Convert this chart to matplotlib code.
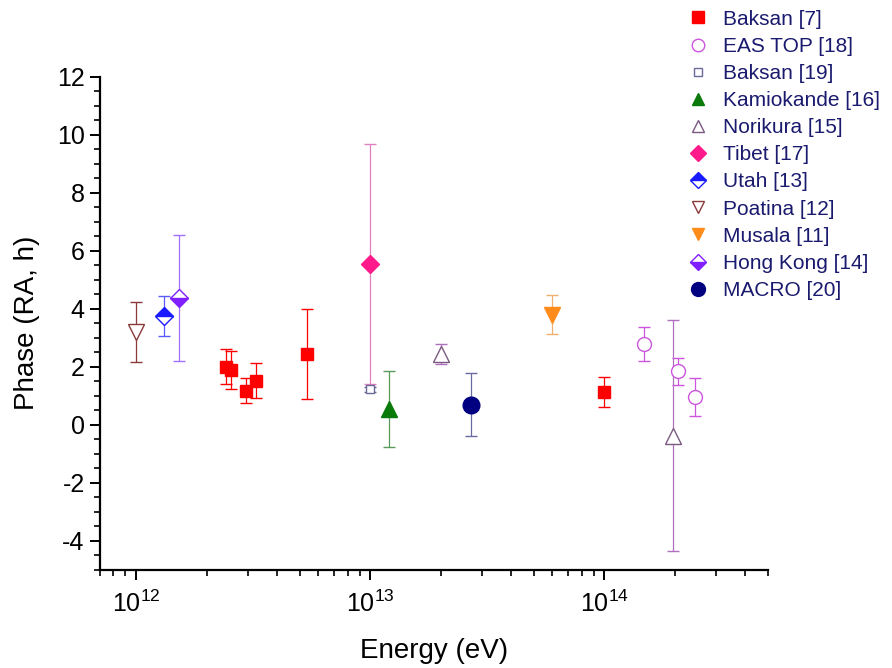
import numpy as np
import matplotlib
matplotlib.use("Agg")
import matplotlib.pyplot as plt
from matplotlib.lines import Line2D
from matplotlib.ticker import MultipleLocator, LogLocator, NullFormatter

plt.rcParams['font.family'] = ['Liberation Sans', 'DejaVu Sans']
plt.rcParams['mathtext.fontset'] = 'custom'
plt.rcParams['mathtext.rm'] = 'Liberation Sans'
plt.rcParams['axes.unicode_minus'] = False

# Data: energy (eV), phase (h), error (h)
baksan7_e = [2.42e12, 2.54e12, 2.94e12, 3.24e12, 5.35e12, 1.0e14]
baksan7_p = [2.0, 1.9, 1.17, 1.52, 2.45, 1.12]
baksan7_err = [0.6, 0.65, 0.43, 0.6, 1.55, 0.52]

eastop_e = [1.48e14, 2.07e14, 2.45e14]
eastop_p = [2.78, 1.84, 0.96]
eastop_err = [0.58, 0.48, 0.67]

baksan19_e = [1.0e13]
baksan19_p = [1.22]
baksan19_err = [0.1]

kamioka_e = [1.2e13]
kamioka_p = [0.55]
kamioka_err = [1.3]

norikura_e = [2.0e13, 1.97e14]
norikura_p = [2.45, -0.38]
norikura_err = [0.35, 3.98]

tibet_e = [1.0e13]
tibet_p = [5.55]
tibet_err = [4.15]

utah_e = [1.32e12]
utah_p = [3.74]
utah_err = [0.69]

poatina_e = [1.0e12]
poatina_p = [3.2]
poatina_err = [1.05]

musala_e = [6.0e13]
musala_p = [3.8]
musala_err = [0.68]

hongkong_e = [1.52e12]
hongkong_p = [4.38]
hongkong_err = [2.17]

macro_e = [2.7e13]
macro_p = [0.7]
macro_err = [1.1]

fig = plt.figure(figsize=(8.92, 6.68), dpi=100)
ax = fig.add_axes([0.112, 0.147, 0.749, 0.738])

proxies = []

def series(e, p, err, label, color, marker, size, filled=True, fillstyle='full',
           ecolor=None, legsize=None):
    style = dict(marker=marker, color=color, markersize=size, markeredgewidth=1.0)
    if fillstyle != 'full':
        style.update(markerfacecolor=color, markerfacecoloralt='white', fillstyle=fillstyle)
    elif not filled:
        style.update(markerfacecolor='white')
    ax.errorbar(e, p, yerr=err, fmt=marker, ecolor=ecolor or color, elinewidth=0.9,
                capsize=4, capthick=0.9, **{k: v for k, v in style.items() if k != 'marker'})
    style['markersize'] = legsize or size * 0.85
    proxies.append((Line2D([], [], linestyle='none', **style), label))

series(baksan7_e, baksan7_p, baksan7_err, 'Baksan [7]', '#ff0000', 's', 9, legsize=8)
series(eastop_e, eastop_p, eastop_err, 'EAS TOP [18]', '#cc55dd', 'o', 10, filled=False, legsize=9)
series(baksan19_e, baksan19_p, baksan19_err, 'Baksan [19]', '#6a6a9a', 's', 6, filled=False, legsize=6)
series(kamioka_e, kamioka_p, kamioka_err, 'Kamiokande [16]', '#0a7a0a', '^', 11, ecolor='#5a9a5a', legsize=9)
series(norikura_e, norikura_p, norikura_err, 'Norikura [15]', '#7a5a80', '^', 11, filled=False,
       ecolor='#b070c0', legsize=9)
series(tibet_e, tibet_p, tibet_err, 'Tibet [17]', '#ff1a8c', 'D', 9, ecolor='#e080c0', legsize=8)
series(utah_e, utah_p, utah_err, 'Utah [13]', '#1a1aff', 'D', 9, fillstyle='top', ecolor='#5a5aff', legsize=8)
series(poatina_e, poatina_p, poatina_err, 'Poatina [12]', '#8a3a3a', 'v', 11, filled=False, legsize=9)
series(musala_e, musala_p, musala_err, 'Musala [11]', '#ff8c1a', 'v', 11, ecolor='#f0b070', legsize=9)
series(hongkong_e, hongkong_p, hongkong_err, 'Hong Kong [14]', '#8020ff', 'D', 9, fillstyle='bottom',
       ecolor='#a070ff', legsize=8)
series(macro_e, macro_p, macro_err, 'MACRO [20]', '#000080', 'o', 12, ecolor='#6a6aa0', legsize=10)

ax.set_xscale('log')
ax.set_xlim(7e11, 5e14)
ax.set_ylim(-5, 12)
ax.yaxis.set_major_locator(MultipleLocator(2))
ax.yaxis.set_minor_locator(MultipleLocator(0.5))
ax.xaxis.set_major_locator(LogLocator(base=10, numticks=10))
ax.xaxis.set_minor_locator(LogLocator(base=10, subs=np.arange(2, 10), numticks=20))
ax.xaxis.set_minor_formatter(NullFormatter())

for s in ['top', 'right']:
    ax.spines[s].set_visible(False)
for s in ['left', 'bottom']:
    ax.spines[s].set_linewidth(1.6)

ax.tick_params(which='major', direction='out', length=7, width=1.4, labelsize=18, pad=4)
ax.tick_params(which='minor', direction='out', length=4, width=1.2)
ax.tick_params(axis='x', which='major', pad=8)

ax.set_xlabel('Energy (eV)', fontsize=20, labelpad=15)
ax.set_ylabel('Phase (RA, h)', fontsize=20, labelpad=12)

leg = fig.legend([h for h, _ in proxies], [l for _, l in proxies], loc='upper left',
                 bbox_to_anchor=(0.762, 0.998), frameon=False, fontsize=15,
                 handletextpad=0.7, labelspacing=0.39, handlelength=1.0, borderaxespad=0)
for t in leg.get_texts():
    t.set_color('#1a1a6e')

fig.savefig('out.png', dpi=100)
